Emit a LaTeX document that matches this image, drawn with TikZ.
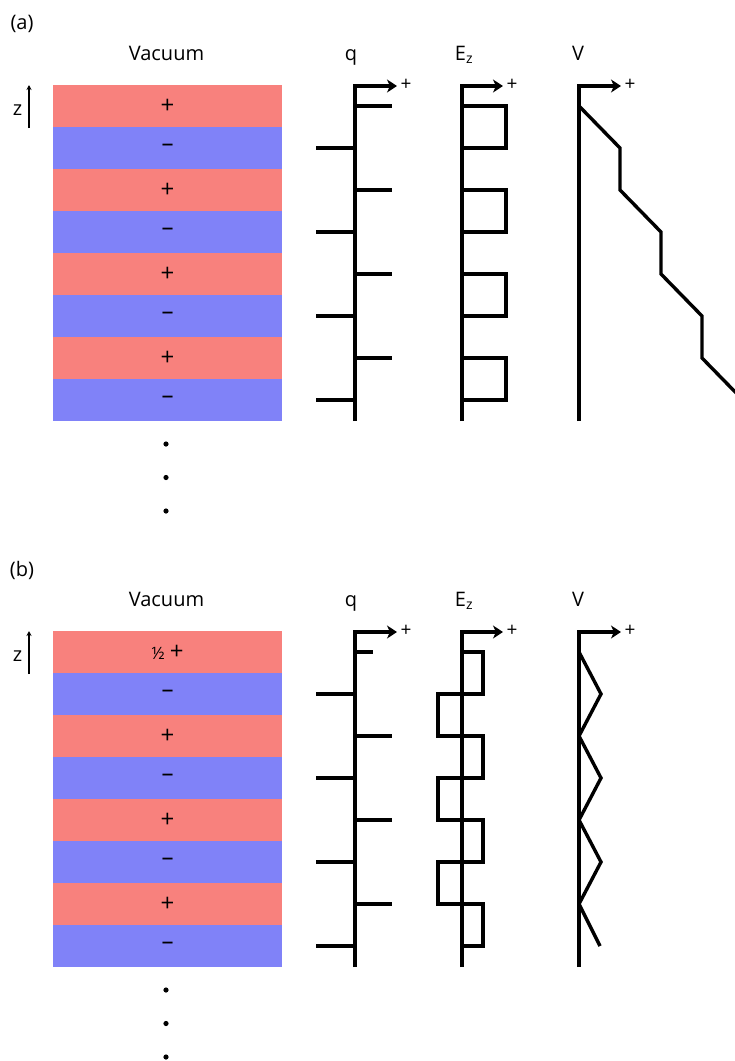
\documentclass[tikz,border=0pt]{standalone}
\usepackage{fontspec}
\setmainfont{Open Sans}
\usetikzlibrary{arrows.meta}
\definecolor{plusred}{RGB}{248,129,125}
\definecolor{minusblue}{RGB}{128,130,248}

% Common part of one panel: tag, titles, layer stack, dots and the three axes
\newcommand{\panelframe}[3]{%
  \begin{scope}[shift={(0,#2)}]
    \node[title] (#1-tag) at (22,24) {(#1)};
    \node[title,anchor=base] (#1-vac) at (166.5,60) {Vacuum};
    \node[title,anchor=base] (#1-z) at (17.5,115) {z};
    \coordinate (#1-zfoot) at (29,128);
    \coordinate (#1-zhead) at (29,85);
    \draw[zarrow] (#1-zfoot) -- (#1-zhead);
    % alternating charged layers
    \node[poslayer] (#1-s0) at (53,85)  {#3};
    \node[neglayer] (#1-s1) at (53,127) {–};
    \node[poslayer] (#1-s2) at (53,169) {+};
    \node[neglayer] (#1-s3) at (53,211) {–};
    \node[poslayer] (#1-s4) at (53,253) {+};
    \node[neglayer] (#1-s5) at (53,295) {–};
    \node[poslayer] (#1-s6) at (53,337) {+};
    \node[neglayer] (#1-s7) at (53,379) {–};
    \foreach \k in {0,1,2}
      \fill (166,{444+\k*33.5}) circle[radius=2.6pt];
    % plot titles
    \node[title,anchor=base] (#1-qlab) at (351,60) {q};
    \node[title,anchor=base] (#1-elab) at (464,60) {E\textsubscript{z}};
    \node[title,anchor=base] (#1-vlab) at (578,60) {V};
    % axes
    \coordinate (#1-qbot) at (355,421); \coordinate (#1-qtop) at (355,86); \coordinate (#1-qend) at (397,86);
    \coordinate (#1-ebot) at (462,421); \coordinate (#1-etop) at (462,86); \coordinate (#1-eend) at (503,86);
    \coordinate (#1-vbot) at (579,421); \coordinate (#1-vtop) at (579,86); \coordinate (#1-vend) at (621,86);
    \draw[axis] (#1-qbot) -- (#1-qtop) -- (#1-qend);
    \draw[axis] (#1-ebot) -- (#1-etop) -- (#1-eend);
    \draw[axis] (#1-vbot) -- (#1-vtop) -- (#1-vend);
    \node[small] (#1-qplus) at (406,85) {+};
    \node[small] (#1-eplus) at (512,85) {+};
    \node[small] (#1-vplus) at (630,85) {+};
  \end{scope}}

\begin{document}
\begin{tikzpicture}[x=1pt,y=-1pt,
  layer/.style={minimum width=229pt, minimum height=42pt, inner sep=0pt,
    outer sep=0pt, anchor=north west, font=\fontsize{24}{28}\selectfont},
  poslayer/.style={layer, fill=plusred},
  neglayer/.style={layer, fill=minusblue},
  title/.style={font=\fontsize{20}{24}\selectfont, inner sep=0pt},
  small/.style={font=\fontsize{19}{22}\selectfont, inner sep=0pt},
  zarrow/.style={line width=1.4pt, -{Stealth[length=5pt,width=5pt]}},
  axis/.style={line width=3.6pt, line join=miter,
    -{Stealth[length=10pt,width=13pt,inset=3pt]}},
  curve/.style={line width=3.4pt, line join=miter},
  ]
\useasboundingbox (0,0) rectangle (735,1061);
\clip (0,0) rectangle (735,1061);

% ---------- (a) ----------
\panelframe{a}{0}{+}
\begin{scope}
  % surface charges
  \foreach \k in {0,...,3} {
    \draw[curve] (355,{106+84*\k}) -- (392,{106+84*\k});
    \draw[curve] (316,{148+84*\k}) -- (355,{148+84*\k});
  }
  % field
  \foreach \k in {0,...,3}
    \draw[curve] (462,{106+84*\k}) -- (506,{106+84*\k}) -- (506,{148+84*\k}) -- (462,{148+84*\k});
  % potential
  \draw[curve] (579,106) -- (620,148) -- (620,190) -- (661,232) -- (661,274)
    -- (702,316) -- (702,358) -- (743,400);
\end{scope}

% ---------- (b) ----------
\panelframe{b}{546}{{\fontsize{17}{20}\selectfont ½}\hspace{5pt}+}
\begin{scope}[shift={(0,546)}]
  \draw[curve] (355,106) -- (373,106);
  \foreach \k in {1,2,3}
    \draw[curve] (355,{106+84*\k}) -- (392,{106+84*\k});
  \foreach \k in {0,...,3}
    \draw[curve] (316,{148+84*\k}) -- (355,{148+84*\k});
  \draw[curve] (462,106) -- (483,106) -- (483,148) -- (438,148) -- (438,190)
    -- (483,190) -- (483,232) -- (438,232) -- (438,274) -- (483,274)
    -- (483,316) -- (438,316) -- (438,358) -- (483,358) -- (483,400) -- (462,400);
  \draw[curve] (579,106) -- (601,148) -- (579,190) -- (601,232) -- (579,274)
    -- (601,316) -- (579,358) -- (600,400);
\end{scope}
\end{tikzpicture}
\end{document}
